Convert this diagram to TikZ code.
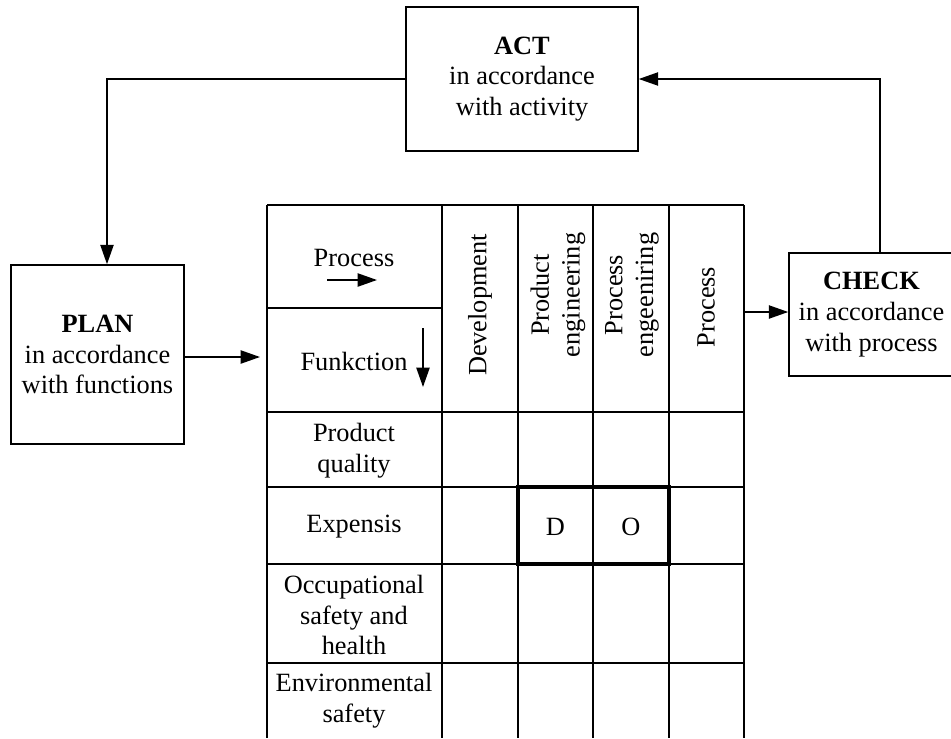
\documentclass[tikz,border=0pt]{standalone}
\usepackage{fontspec}
\setmainfont{Liberation Serif}
\usetikzlibrary{arrows.meta}

\begin{document}
\begin{tikzpicture}[x=0.02cm,y=-0.02cm,
 font=\fontsize{15}{17.5}\selectfont,
 pdca/.style={draw,line width=0.9pt,align=center,inner sep=0pt},
 cell/.style={align=center,inner sep=0pt},
 vcell/.style={align=center,inner sep=0pt,rotate=90},
 grid/.style={line width=1.2pt},
 arr/.style={-{Triangle[length=11pt,width=7.5pt]},line width=0.9pt}]
\useasboundingbox (0,0) rectangle (951,738);
% cycle boxes
\node[pdca,minimum width=4.64cm,minimum height=2.88cm] (act) at (522,79) {\textbf{ACT}\\in accordance\\with activity};
\node[pdca,minimum width=3.46cm,minimum height=3.58cm] (plan) at (97.5,354.5) {\textbf{PLAN}\\in accordance\\with functions};
\node[pdca,minimum width=3.3cm,minimum height=2.46cm] (check) at (871.5,314.5) {\textbf{CHECK}\\in accordance\\with process};
% matrix grid
\foreach \x in {267,442,518,593,669,744} {\draw[grid] (\x,205) -- (\x,738);}
\foreach \y in {205,412,487,564,663} {\draw[grid] (267,\y) -- (744,\y);}
\draw[grid] (267,308) -- (442,308);
\draw[line width=2.2pt] (518,487) rectangle (669,564);
% header
\node[cell] (pLbl) at (354,258) {Process};
\draw[arr] ([shift={(-27,22)}]pLbl.center) -- ++(50,0);
\node[cell] (fLbl) at (354,361) {Funkction};
\draw[arr] ([shift={(69,-33)}]fLbl.center) -- ++(0,59);
\node[vcell] (hDev) at (480,305) {Development};
\node[vcell] (hProd) at (558,295) {Product\\engineering};
\node[vcell] (hPrcE) at (632,295) {Process\\engeeniring};
\node[vcell] (hProc) at (706,307) {Process};
% rows
\node[cell] (rQual) at (354,451) {Product\\quality};
\node[cell] (rExp) at (354,527) {Expensis};
\node[cell] (rOcc) at (354,615) {Occupational\\safety and\\health};
\node[cell] (rEnv) at (354,701) {Environmental\\safety};
\node[cell] (dCell) at (555.5,527) {D};
\node[cell] (oCell) at (631,527) {O};
% cycle arrows
\coordinate (gridW) at (260,357);
\coordinate (gridE) at (744,312);
\draw[arr] (act.west) -| ([xshift=0.19cm]plan.north);
\draw[arr] ([xshift=0.17cm]check.north) |- (act.east);
\draw[arr] (plan.east |- gridW) -- (gridW);
\draw[arr] (gridE) -- (gridE -| check.west);
\end{tikzpicture}
\end{document}
